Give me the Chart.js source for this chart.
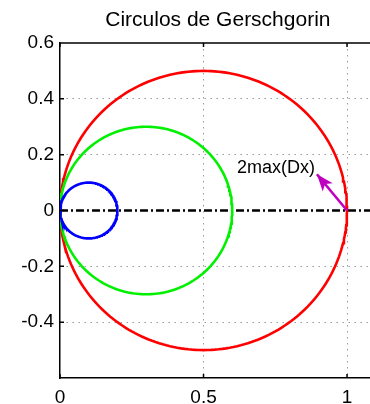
<!DOCTYPE html>
<html>
<head>
<meta charset="utf-8">
<script src="https://cdn.jsdelivr.net/npm/chart.js@4/dist/chart.umd.min.js"></script>
<style>
  html, body { margin: 0; padding: 0; background: #fff; overflow: hidden; }
</style>
</head>
<body>
<canvas id="chart" width="370" height="404"></canvas>
<script>
// Gerschgorin discs: centre on the real axis and radius
const discCenters = [0.5, 0.3, 0.1];
const discRadii = [0.5, 0.3, 0.1];
const discColors = ['#ff0000', '#00f000', '#0000ff'];

const axisLineX = [0, 1.1];
const arrowFrom = [1, 0];
const arrowTo = [0.895, 0.13];
const arrowLabel = '2max(Dx)';
const arrowLabelAt = [0.617, 0.152];

const chartTitle = 'Circulos de Gerschgorin';
const xTicks = [0, 0.5, 1];
const yTicks = [-0.4, -0.2, 0, 0.2, 0.4, 0.6];

const font = "'Liberation Sans', Arial, sans-serif";

const circlePoints = (c, r) => {
    const pts = [];
    const n = 240;
    for (let i = 0; i <= n; i++) {
        const a = (2 * Math.PI * i) / n;
        pts.push({ x: c + r * Math.cos(a), y: r * Math.sin(a) });
    }
    return pts;
};

const discSets = discCenters.map((c, i) => ({
    data: circlePoints(c, discRadii[i]),
    borderColor: discColors[i],
    borderWidth: 2.6,
    showLine: true,
    pointRadius: 0,
    order: 5 - i
}));

const extras = {
    id: 'extras',
    afterDatasetsDraw(chart) {
        const { ctx, chartArea, scales: { x, y } } = chart;
        ctx.save();
        // title, centred over the full axes box (x from 0 to 1.1)
        ctx.fillStyle = '#000';
        ctx.font = '21px ' + font;
        ctx.textAlign = 'center';
        ctx.textBaseline = 'middle';
        ctx.fillText(chartTitle, x.getPixelForValue(0.55), 20);

        // arrow head
        const tx = x.getPixelForValue(arrowTo[0]), ty = y.getPixelForValue(arrowTo[1]);
        const fx = x.getPixelForValue(arrowFrom[0]), fy = y.getPixelForValue(arrowFrom[1]);
        const ang = Math.atan2(ty - fy, tx - fx);
        const len = 17, half = 6.5;
        ctx.fillStyle = '#c000c0';
        ctx.beginPath();
        ctx.moveTo(tx, ty);
        ctx.lineTo(tx - len * Math.cos(ang) + half * Math.sin(ang), ty - len * Math.sin(ang) - half * Math.cos(ang));
        ctx.lineTo(tx - len * 0.75 * Math.cos(ang), ty - len * 0.75 * Math.sin(ang));
        ctx.lineTo(tx - len * Math.cos(ang) - half * Math.sin(ang), ty - len * Math.sin(ang) + half * Math.cos(ang));
        ctx.closePath();
        ctx.fill();

        // label
        ctx.fillStyle = '#000';
        ctx.font = '18px ' + font;
        ctx.textAlign = 'left';
        ctx.fillText(arrowLabel, x.getPixelForValue(arrowLabelAt[0]), y.getPixelForValue(arrowLabelAt[1]));

        // top border and inward tick marks
        ctx.strokeStyle = '#000';
        ctx.lineWidth = 1.5;
        ctx.beginPath();
        ctx.moveTo(chartArea.left, chartArea.top);
        ctx.lineTo(chartArea.right + 2, chartArea.top);
        xTicks.forEach(v => {
            const px = x.getPixelForValue(v);
            ctx.moveTo(px, chartArea.bottom);
            ctx.lineTo(px, chartArea.bottom - 4);
            ctx.moveTo(px, chartArea.top);
            ctx.lineTo(px, chartArea.top + 4);
        });
        yTicks.forEach(v => {
            const py = y.getPixelForValue(v);
            ctx.moveTo(chartArea.left, py);
            ctx.lineTo(chartArea.left + 4, py);
        });
        ctx.stroke();
        ctx.restore();
    }
};

new Chart(document.getElementById('chart'), {
    type: 'scatter',
    data: {
        datasets: [
            {
                data: axisLineX.map(v => ({ x: v, y: 0 })),
                borderColor: '#000',
                borderWidth: 2.6,
                borderDash: [8, 3, 2, 3],
                showLine: true,
                pointRadius: 0,
                order: 10
            },
            ...discSets,
            {
                data: [{ x: arrowFrom[0], y: arrowFrom[1] }, { x: arrowTo[0], y: arrowTo[1] }],
                borderColor: '#c000c0',
                borderWidth: 2.6,
                showLine: true,
                pointRadius: 0,
                order: 0
            }
        ]
    },
    plugins: [extras],
    options: {
        responsive: false,
        animation: false,
        layout: { padding: { left: 0, right: 0, top: 43, bottom: 0 } },
        plugins: {
            legend: { display: false },
            tooltip: { enabled: false },
            title: { display: false }
        },
        scales: {
            x: {
                type: 'linear',
                min: 0,
                max: 1.08,
                afterBuildTicks: s => { s.ticks = xTicks.map(v => ({ value: v })); },
                afterFit: s => { s.height = 26; },
                grid: {
                    color: ctx => (ctx.tick && ctx.tick.value === 0 ? 'rgba(0,0,0,0)' : '#9a9a9a'),
                    lineWidth: 1,
                    drawTicks: false
                },
                border: { display: true, color: '#000', width: 1.5, dash: [1.5, 4.5] },
                ticks: {
                    color: '#000',
                    padding: 8,
                    font: { family: font, size: 19 },
                    maxRotation: 0,
                    callback: v => String(v)
                }
            },
            y: {
                type: 'linear',
                min: -0.6,
                max: 0.6,
                afterBuildTicks: s => { s.ticks = yTicks.map(v => ({ value: v })); },
                afterFit: s => { s.width = 60; },
                grid: {
                    color: ctx => (ctx.tick && (ctx.tick.value === 0 || Math.abs(ctx.tick.value) === 0.6) ? 'rgba(0,0,0,0)' : '#9a9a9a'),
                    lineWidth: 1,
                    drawTicks: false
                },
                border: { display: true, color: '#000', width: 1.5, dash: [1.5, 4.5] },
                ticks: {
                    color: '#000',
                    padding: 6,
                    font: { family: font, size: 19 },
                    callback: v => (v === 0 ? '0' : v.toFixed(1))
                }
            }
        }
    }
});
</script>
</body>
</html>
